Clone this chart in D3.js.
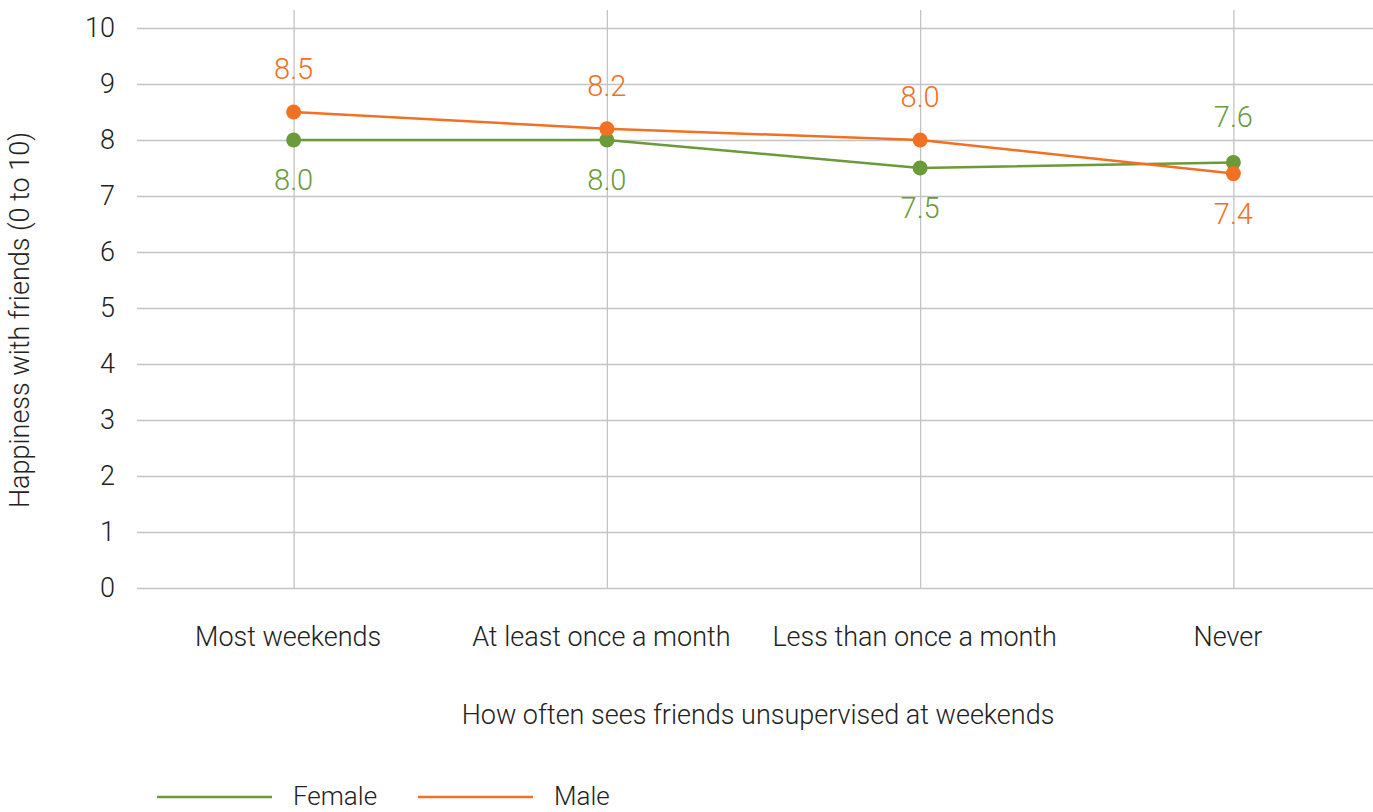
<!DOCTYPE html>
<html>
<head>
<meta charset="utf-8">
<script src="https://cdn.jsdelivr.net/npm/d3@7"></script>
<style>
  html, body { margin: 0; padding: 0; background: #fff; }
  svg { display: block; font-family: Roboto, "Open Sans", sans-serif; font-weight: 300; }
</style>
</head>
<body>
<svg id="chart" width="1373" height="812"></svg>
<script>
// Happiness with friends by how often friends are seen unsupervised at weekends
const categories = ["Most weekends", "At least once a month", "Less than once a month", "Never"];
const femaleValues = [8.0, 8.0, 7.5, 7.6];
const maleValues = [8.5, 8.2, 8.0, 7.4];
const yTicks = [0, 1, 2, 3, 4, 5, 6, 7, 8, 9, 10];
const seriesNames = ["Female", "Male"];
// label placement per point: -1 above, +1 below
const femaleLabelSide = [1, 1, 1, -1];
const maleLabelSide = [-1, -1, -1, 1];

const colors = { Female: "#6b9a3a", Male: "#f07124" };
const gridColor = "#c4c4c4";
const textColor = "#222";
const fontSize = "27px";

const svg = d3.select("#chart");
const W = 1373, H = 812;
const plot = { left: 137, right: 1390, top: 28, bottom: 588 };

const x = d3.scalePoint().domain(categories).range([plot.left, plot.right]).padding(0.5);
const y = d3.scaleLinear().domain([0, 10]).range([plot.bottom, plot.top]);

// horizontal gridlines + y tick labels
const yAxis = d3.axisLeft(y).tickValues(yTicks).tickSize(-(W - plot.left)).tickPadding(22);
const gy = svg.append("g").attr("transform", `translate(${plot.left},0)`).call(yAxis);
gy.select(".domain").remove();
gy.selectAll(".tick line").attr("stroke", gridColor).attr("stroke-width", 1.3);
gy.selectAll(".tick text").attr("fill", textColor).style("font-size", fontSize)
  .style("font-family", "Roboto, sans-serif").style("font-weight", 300);

// vertical gridlines at category positions + x tick labels
const xAxis = d3.axisBottom(x).tickSize(-(plot.bottom - 10)).tickPadding(39);
const gx = svg.append("g").attr("transform", `translate(0,${plot.bottom})`).call(xAxis);
gx.select(".domain").remove();
gx.selectAll(".tick line").attr("stroke", gridColor).attr("stroke-width", 1.3);
gx.selectAll(".tick text").attr("fill", textColor).attr("dx", -6).style("font-size", fontSize)
  .style("font-family", "Roboto, sans-serif").style("font-weight", 300);

// axis titles
svg.append("text")
  .attr("x", 758).attr("y", 724)
  .attr("text-anchor", "middle")
  .attr("fill", textColor).style("font-size", fontSize)
  .text("How often sees friends unsupervised at weekends");

svg.append("text")
  .attr("transform", `translate(29,320) rotate(-90)`)
  .attr("text-anchor", "middle")
  .attr("fill", textColor).style("font-size", fontSize)
  .text("Happiness with friends (0 to 10)");

const series = [
  { name: "Female", values: femaleValues, sides: femaleLabelSide },
  { name: "Male", values: maleValues, sides: maleLabelSide }
];

const line = d3.line().x((d, i) => x(categories[i])).y(d => y(d));

series.forEach(s => {
  const g = svg.append("g");
  g.append("path")
    .datum(s.values)
    .attr("d", line)
    .attr("fill", "none")
    .attr("stroke", colors[s.name])
    .attr("stroke-width", 2.5);
  g.selectAll("circle")
    .data(s.values)
    .join("circle")
    .attr("cx", (d, i) => x(categories[i]))
    .attr("cy", d => y(d))
    .attr("r", 7.5)
    .attr("fill", colors[s.name]);
  g.selectAll("text")
    .data(s.values)
    .join("text")
    .attr("x", (d, i) => x(categories[i]))
    .attr("y", (d, i) => y(d) + (s.sides[i] < 0 ? -33 + (i === 3 ? -2 : 0) : 50))
    .attr("text-anchor", "middle")
    .attr("fill", colors[s.name])
    .style("font-size", "29px")
    .text(d => d.toFixed(1));
});

// legend
const legend = svg.append("g");
const legendItems = [
  { name: seriesNames[0], x0: 157 },
  { name: seriesNames[1], x0: 418 }
];
legendItems.forEach(it => {
  legend.append("line")
    .attr("x1", it.x0).attr("x2", it.x0 + 115)
    .attr("y1", 797).attr("y2", 797)
    .attr("stroke", colors[it.name]).attr("stroke-width", 2.5);
  legend.append("text")
    .attr("x", it.x0 + 136).attr("y", 805)
    .attr("fill", textColor).style("font-size", "26px")
    .text(it.name);
});
</script>
</body>
</html>
